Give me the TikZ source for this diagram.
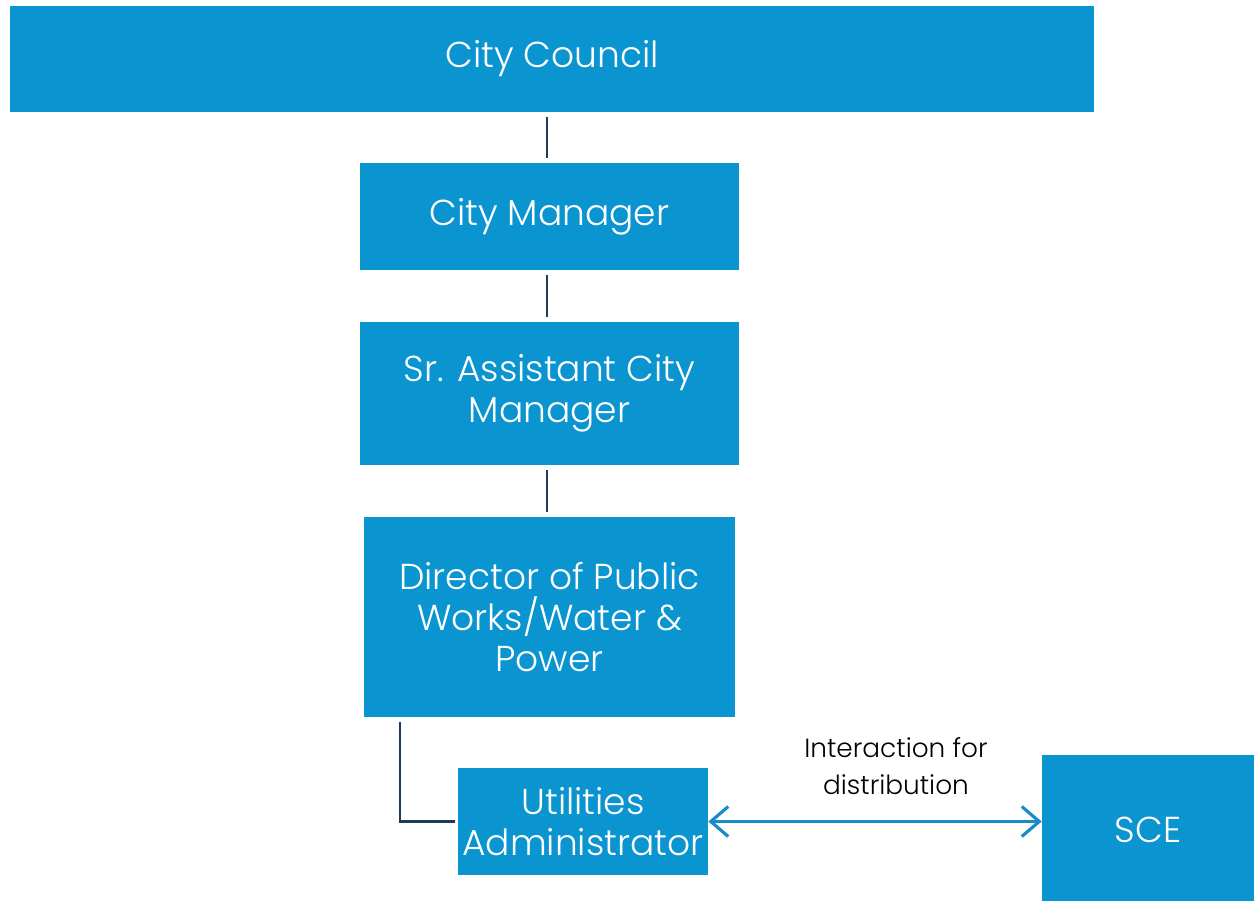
\documentclass[tikz,border=0pt]{standalone}
\usepackage{fontspec}
\setmainfont{Poppins}[UprightFont=* Light]
\usetikzlibrary{arrows.meta}

\definecolor{boxblue}{RGB}{10,148,208}
\definecolor{linknavy}{RGB}{30,58,92}
\definecolor{arrowblue}{RGB}{24,140,200}

\tikzset{
  unit/.style={fill=boxblue, text=white, inner sep=0pt, align=center,
    font=\fontsize{20.5}{23.5}\selectfont},
  link/.style={linknavy, line width=1.6pt, shorten <=0.1cm, shorten >=0.1cm},
  flow/.style={arrowblue, line width=1.8pt},
  >={Straight Barb[length=0.35cm,width=0.6cm]}
}

\begin{document}
\begin{tikzpicture}[x=0.02cm,y=-0.02cm]

    \useasboundingbox (0,0) rectangle (1256,900);

    \node[unit, minimum width=21.68cm, minimum height=2.12cm] (council) at (552,59) {City Council};
    \node[unit, minimum width=7.58cm, minimum height=2.14cm] (manager) at (549.5,216.5) {City Manager};
    \node[unit, minimum width=7.58cm, minimum height=2.86cm] (assistant) at (549.5,393.5) {Sr. Assistant City\\Manager};
    \node[unit, minimum width=7.42cm, minimum height=4cm] (director) at (549.5,617) {Director of Public\\Works/Water \&\\Power};
    \node[unit, minimum width=5cm, minimum height=2.14cm] (utilities) at (583,821.5) {Utilities\\Administrator};
    \node[unit, minimum width=4.24cm, minimum height=3cm] (sce) at (1148,830) {SCE};

    \draw[link] (council.south -| 547,0) -- (manager.north -| 547,0);
    \draw[link] (manager.south -| 547,0) -- (assistant.north -| 547,0);
    \draw[link] (assistant.south -| 547,0) -- (director.north -| 547,0);
    \draw[link, shorten >=0.06cm] (director.south -| 400,0) |- (utilities.west);

    \draw[flow, <->] (utilities.east) -- (utilities.east -| sce.west);
    \node[black, align=center, font=\fontsize{15}{21}\selectfont] (interlabel) at (896,766) {Interaction for\\distribution};
\end{tikzpicture}
\end{document}
